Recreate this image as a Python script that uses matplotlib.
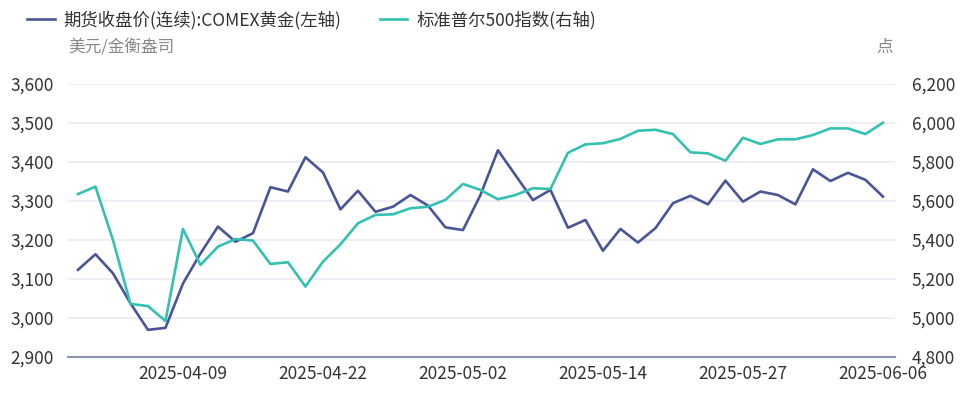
import matplotlib
matplotlib.use("Agg")
import matplotlib.pyplot as plt
from matplotlib.ticker import FuncFormatter, MultipleLocator

plt.rcParams['font.family'] = ['Noto Sans CJK SC', 'DejaVu Sans']

dates = [
    "2025-04-01", "2025-04-02", "2025-04-03", "2025-04-04", "2025-04-07", "2025-04-08",
    "2025-04-09", "2025-04-10", "2025-04-11", "2025-04-14", "2025-04-15", "2025-04-16",
    "2025-04-17", "2025-04-21", "2025-04-22", "2025-04-23", "2025-04-24", "2025-04-25",
    "2025-04-28", "2025-04-29", "2025-04-30", "2025-05-01", "2025-05-02", "2025-05-05",
    "2025-05-06", "2025-05-07", "2025-05-08", "2025-05-09", "2025-05-12", "2025-05-13",
    "2025-05-14", "2025-05-15", "2025-05-16", "2025-05-19", "2025-05-20", "2025-05-21",
    "2025-05-22", "2025-05-23", "2025-05-27", "2025-05-28", "2025-05-29", "2025-05-30",
    "2025-06-02", "2025-06-03", "2025-06-04", "2025-06-05", "2025-06-06",
]

gold = [
    3123, 3163, 3114, 3037, 2969, 2974, 3088, 3165, 3234, 3195, 3217, 3335,
    3324, 3412, 3373, 3278, 3326, 3272, 3285, 3315, 3288, 3232, 3225, 3315,
    3430, 3366, 3302, 3328, 3231, 3251, 3172, 3228, 3193, 3230, 3294, 3313,
    3291, 3352, 3298, 3324, 3315, 3291, 3381, 3351, 3372, 3354, 3311,
]

spx = [
    5635, 5673, 5399, 5071, 5060, 4983, 5456, 5271, 5365, 5404, 5396, 5276,
    5285, 5160, 5288, 5377, 5485, 5528, 5531, 5562, 5570, 5605, 5687, 5656,
    5608, 5630, 5665, 5661, 5847, 5890, 5896, 5918, 5960, 5965, 5943, 5849,
    5844, 5806, 5924, 5892, 5916, 5916, 5938, 5972, 5972, 5943, 6001,
]

tick_dates = ["2025-04-09", "2025-04-22", "2025-05-02", "2025-05-14", "2025-05-27", "2025-06-06"]

gold_color = "#4a5598"
spx_color = "#33c1b1"
text_color = "#333333"

fig = plt.figure(figsize=(9.62, 3.94), dpi=100)
ax = fig.add_axes([68 / 962, 1 - 356.7 / 394, (895 - 68) / 962, (356.7 - 84) / 394])
ax2 = ax.twinx()

x = list(range(len(dates)))
l1, = ax.plot(x, gold, color=gold_color, lw=1.9, label="期货收盘价(连续):COMEX黄金(左轴)", zorder=3)
l2, = ax2.plot(x, spx, color=spx_color, lw=1.9, label="标准普尔500指数(右轴)", zorder=3)

ax.set_xlim(-0.57, len(dates) - 1 + 0.69)
ax.set_ylim(2900, 3600)
ax2.set_ylim(4800, 6200)
ax.yaxis.set_major_locator(MultipleLocator(100))
ax2.yaxis.set_major_locator(MultipleLocator(200))
fmt = FuncFormatter(lambda v, p: f"{int(v):,}")
ax.yaxis.set_major_formatter(fmt)
ax2.yaxis.set_major_formatter(fmt)

ax.set_xticks([dates.index(d) for d in tick_dates])
ax.set_xticklabels(tick_dates)

ax.grid(axis="y", color="#ebebf2", lw=1.2)
ax.set_axisbelow(True)
for a in (ax, ax2):
    for s in ("top", "left", "right", "bottom"):
        a.spines[s].set_visible(False)
ax.spines["bottom"].set_visible(True)
ax.spines["bottom"].set_color("#8a94b0")
ax.spines["bottom"].set_linewidth(1.5)

ax.tick_params(axis="x", length=0, pad=6, labelsize=12.5, labelcolor=text_color)
ax.tick_params(axis="y", length=0, pad=10, labelsize=12.5, labelcolor=text_color)
ax2.tick_params(axis="y", length=0, pad=12, labelsize=12.5, labelcolor=text_color)

fig.legend(handles=[l1, l2], loc="upper left", bbox_to_anchor=(0.012, 1.013), ncol=2,
           frameon=False, fontsize=12.5, handlelength=1.6, handletextpad=0.5,
           columnspacing=2.2, labelcolor=text_color)

fig.text(68 / 962, 1 - 47 / 394, "美元/金衡盎司", fontsize=12, color="#888888", ha="left", va="center")
fig.text(885 / 962, 1 - 47 / 394, "点", fontsize=12, color="#888888", ha="center", va="center")

fig.savefig("out.png", dpi=100)
